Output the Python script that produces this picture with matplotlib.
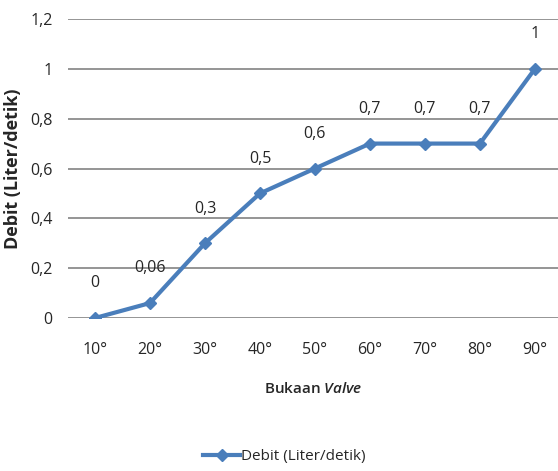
import matplotlib.pyplot as plt
from matplotlib.lines import Line2D

plt.rcParams['font.family'] = ['Open Sans', 'DejaVu Sans']
plt.rcParams['mathtext.fontset'] = 'custom'
plt.rcParams['mathtext.it'] = 'Open Sans:italic:semibold'
plt.rcParams['mathtext.rm'] = 'Open Sans'

bukaan = ['10°', '20°', '30°', '40°', '50°', '60°', '70°', '80°', '90°']
debit = [0, 0.06, 0.3, 0.5, 0.6, 0.7, 0.7, 0.7, 1]
label_teks = ['0', '0,06', '0,3', '0,5', '0,6', '0,7', '0,7', '0,7', '1']
y_ticks = [0, 0.2, 0.4, 0.6, 0.8, 1, 1.2]
y_labels = ['0', '0,2', '0,4', '0,6', '0,8', '1', '1,2']

biru = '#4A7EBB'
abu = '#8C8C8C'
teks = '#262626'

fig = plt.figure(figsize=(5.58, 4.71), dpi=100)
ax = fig.add_axes([0.1219, 0.3248, 0.8781, 0.6349])

x = list(range(len(bukaan)))
ax.plot(x, debit, color=biru, lw=3, marker='D', ms=6.5, mec=biru, mfc=biru)

for xi, yi, t in zip(x, debit, label_teks):
    ax.annotate(t, (xi, yi), xytext=(0, 25), textcoords='offset points',
                ha='center', va='center', fontsize=11.5, color=teks)

ax.set_ylim(0, 1.2)
ax.set_xlim(-0.49, 8.42)
ax.set_yticks(y_ticks)
ax.set_yticklabels(y_labels, fontsize=11.5, color=teks)
ax.set_xticks(x)
ax.set_xticklabels(bukaan, fontsize=11.5, color=teks)
ax.tick_params(length=0, pad=11)
ax.tick_params(axis='x', pad=17)
ax.yaxis.grid(True, color=abu, lw=1.3)
ax.set_axisbelow(True)
for s in ax.spines.values():
    s.set_visible(False)

ax.set_ylabel('Debit (Liter/detik)', fontsize=13, fontweight='bold',
              color=teks, labelpad=6)
ax.set_xlabel(r'Bukaan $\it{Valve}$', fontsize=11, fontweight='semibold',
              color=teks, labelpad=17)

handle = Line2D([], [], color=biru, lw=3, marker='D', ms=6.5)
fig.legend([handle], ['Debit (Liter/detik)'], loc='center',
           bbox_to_anchor=(0.51, 0.03), frameon=False, fontsize=11,
           handlelength=2.4, handletextpad=0.1, labelcolor=teks)

fig.savefig('out.png', dpi=100)
